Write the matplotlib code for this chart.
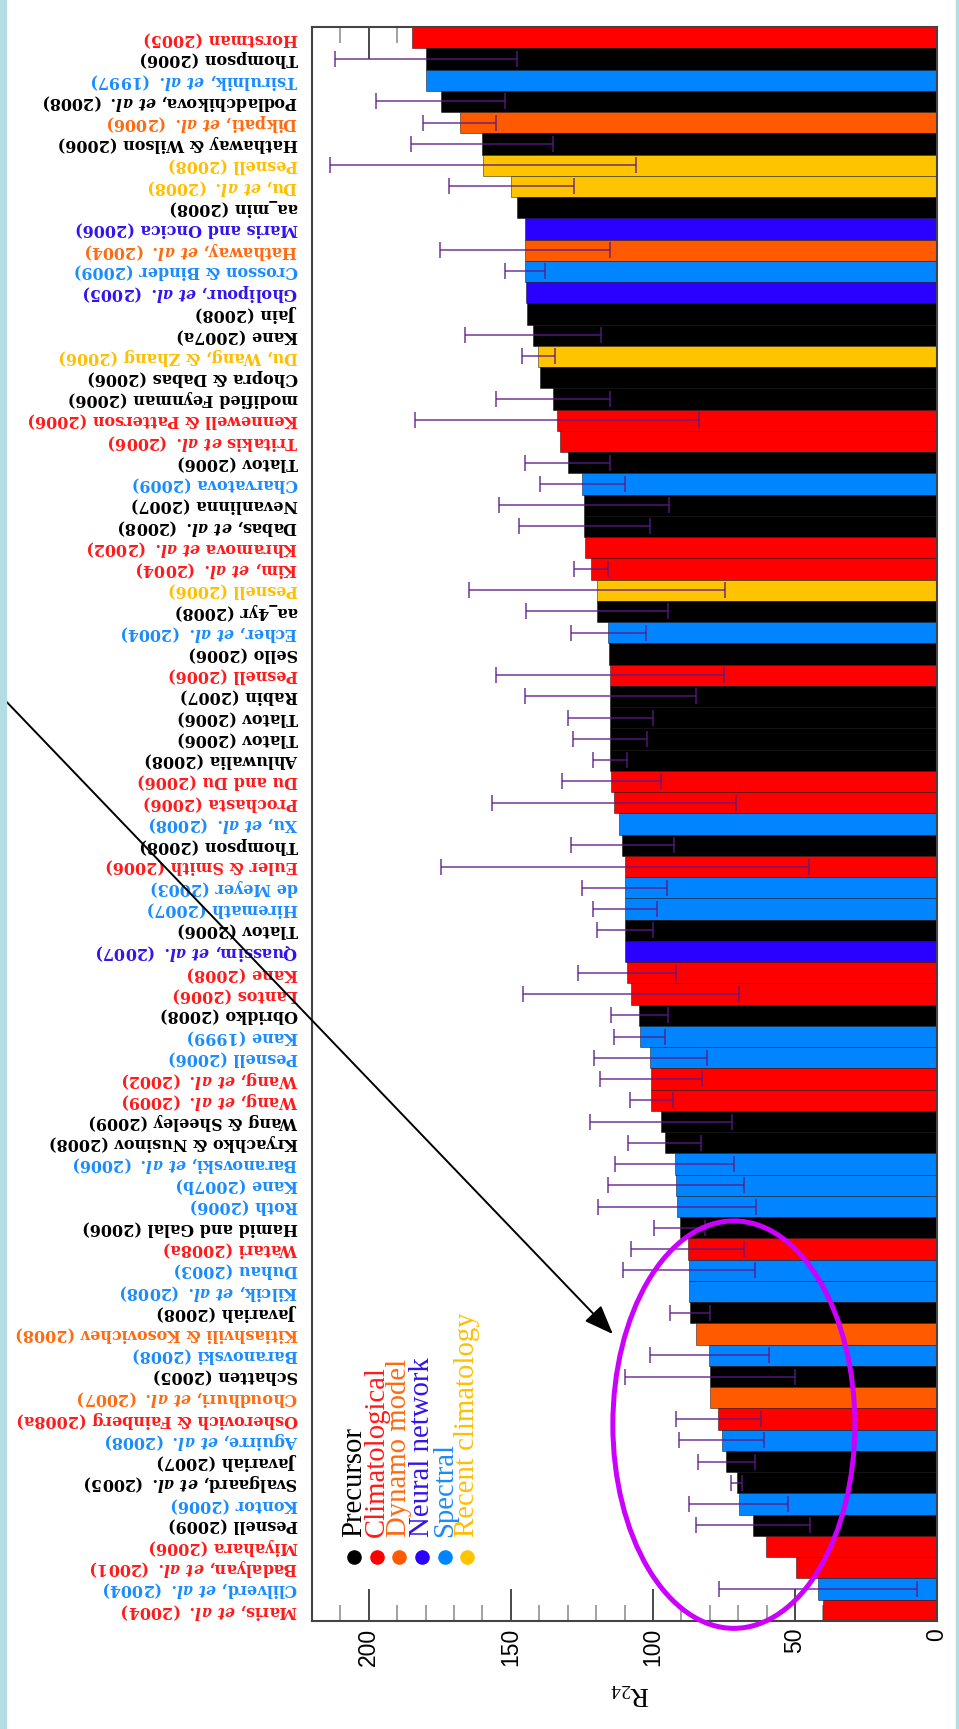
import numpy as np
import matplotlib
matplotlib.use('Agg')
import matplotlib.pyplot as plt
from matplotlib.ticker import MultipleLocator
from matplotlib.patches import Ellipse, Rectangle

plt.rcParams.update({
    'mathtext.fontset': 'custom',
    'mathtext.rm': 'DejaVu Serif:bold',
    'mathtext.it': 'DejaVu Serif:italic:bold',
    'mathtext.sf': 'Liberation Serif',
})

ETAL = r"$et\ al.$"

labels = [
    "Horstman (2005)", "Thompson (2006)", f"Tsirulnik, {ETAL} (1997)",
    f"Podladchikova, {ETAL} (2008)", f"Dikpati, {ETAL} (2006)", "Hathaway & Wilson (2006)",
    "Pesnell (2008)", f"Du, {ETAL} (2008)", "aa_min (2008)", "Maris and Oncica (2006)",
    f"Hathaway, {ETAL} (2004)", "Crosson & Binder (2009)", f"Gholipour, {ETAL} (2005)",
    "Jain (2008)", "Kane (2007a)", "Du, Wang, & Zhang (2006)", "Chopra & Dabas (2006)",
    "modified Feynman (2006)", "Kennewell & Patterson (2006)", f"Tritakis {ETAL} (2006)",
    "Tlatov (2006)", "Charvatova (2009)", "Nevanlinna (2007)", f"Dabas, {ETAL} (2008)",
    f"Khramova {ETAL} (2002)", f"Kim, {ETAL} (2004)", "Pesnell (2006)", "aa_4yr (2008)",
    f"Echer, {ETAL} (2004)", "Sello (2006)", "Pesnell (2006)", "Rabin (2007)",
    "Tlatov (2006)", "Tlatov (2006)", "Ahluwalia (2008)", "Du and Du (2006)",
    "Prochasta (2006)", f"Xu, {ETAL} (2008)", "Thompson (2008)", "Euler & Smith (2006)",
    "de Meyer (2003)", "Hiremath (2007)", "Tlatov (2006)", f"Quassim, {ETAL} (2007)",
    "Kane (2008)", "Lantos (2006)", "Obridko (2008)", "Kane (1999)", "Pesnell (2006)",
    f"Wang, {ETAL} (2002)", f"Wang, {ETAL} (2009)", "Wang & Sheeley (2009)",
    "Kryachko & Nusinov (2008)", f"Baranovski, {ETAL} (2006)", "Kane (2007b)",
    "Roth (2006)", "Hamid and Galal (2006)", "Watari (2008a)", "Duhau (2003)",
    f"Kilcik, {ETAL} (2008)", "Javariah (2008)", "Kitiashvili & Kosovichev (2008)",
    "Baranovski (2008)", "Schatten (2005)", f"Choudhuri, {ETAL} (2007)",
    "Osherovich & Fainberg (2008a)", f"Aguirre, {ETAL} (2008)", "Javariah (2007)",
    f"Svalgaard, {ETAL} (2005)", "Kontor (2006)", "Pesnell (2009)", "Miyahara (2006)",
    f"Badalyan, {ETAL} (2001)", f"Clilverd, {ETAL} (2004)", f"Maris, {ETAL} (2004)",
]

# P precursor, C climatological, D dynamo, N neural net, S spectral, R recent climatology
methods = [
    "C", "P", "S", "P", "D", "P", "R", "R", "P", "N",
    "D", "S", "N", "P", "P", "R", "P", "P", "C", "C",
    "P", "S", "P", "P", "C", "C", "R", "P", "S", "P",
    "C", "P", "P", "P", "P", "C", "C", "S", "P", "C",
    "S", "S", "P", "N", "C", "C", "P", "S", "S", "C",
    "C", "P", "P", "S", "S", "S", "P", "C", "S", "S",
    "P", "D", "S", "P", "D", "C", "S", "P", "P", "S",
    "P", "C", "C", "S", "C",
]

r24 = np.array([
    184.7, 180.0, 180.0, 174.7, 168.0, 160.3, 159.8, 149.8, 147.8, 145.1,
    145.0, 145.0, 144.8, 144.3, 142.1, 140.3, 139.8, 135.1, 133.8, 132.7,
    130.0, 124.8, 124.2, 124.1, 123.9, 121.9, 119.8, 119.8, 115.8, 115.4,
    115.1, 115.0, 115.0, 115.0, 115.0, 114.7, 113.8, 112.0, 110.8, 109.9,
    109.9, 109.9, 109.9, 109.9, 109.0, 107.7, 104.8, 104.6, 100.9, 100.8,
    100.5, 97.0, 95.8, 92.3, 91.9, 91.5, 90.6, 87.8, 87.3, 87.2,
    87.0, 84.7, 80.2, 80.0, 80.0, 77.0, 75.8, 74.2, 70.5, 69.8,
    64.8, 60.1, 49.8, 41.9, 40.1,
])

r24_err = np.array([
    0, 32, 0, 22.7, 12.8, 25, 54, 22, 0, 0,
    30, 7, 0, 0, 24, 5.7, 0, 20, 50, 0,
    15, 15, 30, 23, 0, 6, 45, 25, 13.2, 0,
    40, 30, 15, 13, 6, 17.4, 43, 0, 18.2, 64.8,
    15, 11.2, 9.9, 0, 17.2, 38, 10, 9, 20, 18,
    7.4, 25, 12.9, 21, 24, 27.8, 9, 20, 23.3, 0,
    7, 0, 21, 30, 0, 15, 15, 10, 2, 17.5,
    20, 0, 0, 35, 0,
])

legend_names = ["Precursor", "Climatological", "Dynamo model",
                "Neural network", "Spectral", "Recent climatology"]
legend_keys = ["P", "C", "D", "N", "S", "R"]

bar_colors = {"P": "#000000", "C": "#ff0000", "D": "#ff5a00",
              "N": "#2a00ff", "S": "#0084ff", "R": "#ffc400"}
text_colors = {"P": "#000000", "C": "#ff1a1a", "D": "#ff6a10",
               "N": "#3312ee", "S": "#1a8cff", "R": "#ffbf00"}

W, H = 959, 1729
fig = plt.figure(figsize=(W / 100, H / 100), dpi=100)
ax = fig.add_axes([312 / W, 1 - 1621 / H, 625 / W, 1594 / H])

y = np.arange(len(labels))
ax.barh(y, r24, height=1.0, color=[bar_colors[m] for m in methods],
        edgecolor=(0, 0, 0, 0.45), linewidth=0.7, zorder=3)

has_err = r24_err > 0
ax.errorbar(r24[has_err], y[has_err], xerr=r24_err[has_err], fmt='none',
            ecolor='#5c1a86', alpha=0.8, elinewidth=1.2, capsize=6,
            capthick=1.2, zorder=4)

ax.set_xlim(220, 0)
ax.set_ylim(len(labels) - 0.5, -0.5)

ax.xaxis.set_major_locator(MultipleLocator(50))
ax.xaxis.set_minor_locator(MultipleLocator(10))
ax.tick_params(axis='x', which='both', direction='in', top=True, bottom=True,
               labelsize=16.5, pad=5, labelrotation=90)
ax.tick_params(axis='x', which='major', length=23, width=1.3, color='#3a3a3a')
ax.tick_params(axis='x', which='minor', length=11.5, width=1.3, color='#9a9a9a')
for lab in ax.get_xticklabels():
    lab.set_fontfamily('Liberation Sans')

ax.set_yticks(y)
ax.set_yticklabels(labels, rotation=180, rotation_mode='anchor', ha='left',
                   va='center', fontsize=11.5, family='DejaVu Serif',
                   fontweight='bold')
for lab, m in zip(ax.get_yticklabels(), methods):
    lab.set_color(text_colors[m])
ax.tick_params(axis='y', length=0, pad=10)

for s in ax.spines.values():
    s.set_color('#444444')
    s.set_linewidth(1.5)
    s.set_zorder(5)

ax.text(0.509, -0.0464, r'$\mathsf{R_{24}}$', transform=ax.transAxes,
        rotation=180, ha='center', va='center', fontsize=20)

# legend: dots with rotated names
for i, (name, k) in enumerate(zip(legend_names, legend_keys)):
    lx = 0.0672 + i * 0.0363
    ax.scatter([lx], [0.0401], transform=ax.transAxes, s=90,
               color=bar_colors[k], zorder=6, clip_on=False)
    ax.text(lx, 0.0527, name, transform=ax.transAxes, rotation=90,
            ha='center', va='bottom', fontsize=20.7, family='Liberation Serif',
            color=text_colors[k], zorder=6)

# annotation: arrow and ellipse
ax.annotate('', xy=(114.1, 61.0), xycoords='data',
            xytext=(1 / W, 1 - 696 / H), textcoords='figure fraction',
            arrowprops=dict(arrowstyle='-|>,head_length=0.9,head_width=0.35',
                            color='black', lw=1.4, mutation_scale=20,
                            shrinkA=0, shrinkB=0),
            annotation_clip=False, zorder=7)
ax.add_patch(Ellipse((71.5, 65.26), width=85.2, height=19.17, fill=False,
                     edgecolor='#cc00ff', lw=3.6, zorder=7, clip_on=False))

# light frame strips at the sides
fig.patches.append(Rectangle((0, 0), 6 / W, 1, transform=fig.transFigure,
                             color='#b3dde2', zorder=0))
fig.patches.append(Rectangle((956 / W, 0), 3 / W, 1, transform=fig.transFigure,
                             color='#b3dde2', zorder=0))

fig.savefig('out.png', dpi=100)
